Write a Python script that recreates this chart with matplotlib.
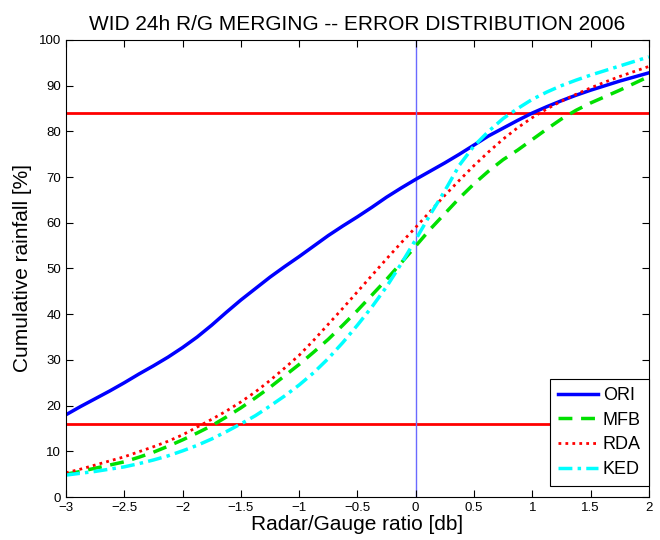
import numpy as np
import matplotlib
matplotlib.use('Agg')
import matplotlib.pyplot as plt

# Ratio radar/gauge (dB) y curvas acumuladas
ratio_db = [-3, -2.875, -2.75, -2.625, -2.5, -2.375, -2.25, -2.125, -2, -1.875,
            -1.75, -1.625, -1.5, -1.375, -1.25, -1.125, -1, -0.875, -0.75, -0.625,
            -0.5, -0.375, -0.25, -0.125, 0, 0.125, 0.25, 0.375, 0.5, 0.625,
            0.75, 0.875, 1, 1.125, 1.25, 1.375, 1.5, 1.625, 1.75, 1.875, 2]
ori = [18.0, 19.8, 21.5, 23.2, 25.0, 26.9, 28.7, 30.6, 32.7, 35.0,
       37.6, 40.4, 43.1, 45.6, 48.1, 50.4, 52.6, 54.9, 57.2, 59.3,
       61.3, 63.4, 65.6, 67.6, 69.5, 71.3, 73.1, 75.0, 77.0, 79.0,
       80.7, 82.4, 84.0, 85.4, 86.7, 87.9, 89.0, 90.0, 91.0, 91.9, 92.8]
mfb = [5.0, 5.6, 6.3, 7.0, 7.7, 8.7, 9.8, 11.1, 12.5, 14.0,
       15.6, 17.5, 19.5, 21.7, 24.0, 26.5, 29.0, 31.7, 34.5, 37.6,
       40.8, 44.2, 47.6, 51.2, 54.9, 58.6, 62.0, 65.4, 68.5, 71.3,
       73.8, 75.9, 78.2, 80.5, 82.7, 84.6, 86.2, 87.6, 89.0, 90.5, 92.0]
rda = [5.3, 6.1, 7.0, 7.9, 8.8, 9.9, 11.0, 12.2, 13.6, 15.3,
       17.0, 18.8, 20.8, 23.0, 25.5, 28.2, 31.0, 34.3, 37.8, 41.3,
       44.9, 48.5, 52.1, 55.6, 59.0, 62.5, 66.0, 69.3, 72.5, 75.5,
       78.3, 80.8, 83.0, 84.9, 86.6, 88.1, 89.5, 90.8, 92.0, 93.1, 94.2]
ked = [4.8, 5.2, 5.6, 6.1, 6.6, 7.3, 8.1, 9.0, 10.1, 11.3,
       12.7, 14.3, 16.0, 17.8, 19.9, 22.1, 24.5, 27.2, 30.3, 33.8,
       37.6, 41.6, 46.0, 51.0, 56.3, 61.8, 67.0, 72.6, 76.8, 80.0,
       82.8, 85.0, 87.0, 88.6, 90.0, 91.2, 92.3, 93.3, 94.3, 95.3, 96.3]
percentiles = [16, 84]

plt.rcParams['font.family'] = ['Liberation Sans', 'DejaVu Sans']

fig = plt.figure(figsize=(6.6, 5.4), dpi=100)
ax = fig.add_axes([0.1, 0.0796, 0.883, 0.8464])

for p in percentiles:
    ax.axhline(p, color='#ff0000', lw=2, zorder=1)
ax.axvline(0, color='#6a6aff', lw=1, zorder=1)

ax.plot(ratio_db, ori, color='#0000ff', lw=2.5, ls='-', label='ORI')
ax.plot(ratio_db, mfb, color='#00e000', lw=2.5, ls=(0, (4, 2.5)), label='MFB')
ax.plot(ratio_db, rda, color='#ff0000', lw=2, ls=(0, (1, 1.5)), label='RDA')
ax.plot(ratio_db, ked, color='#00ffff', lw=2.5, ls=(0, (4, 1.5, 1, 1.5)), label='KED')

ax.set_xlim(-3, 2)
ax.set_ylim(0, 100)
ax.set_xticks(np.arange(-3, 2.01, 0.5))
ax.set_xticklabels(['\u22123', '\u22122.5', '\u22122', '\u22121.5', '\u22121', '\u22120.5',
                    '0', '0.5', '1', '1.5', '2'])
ax.set_yticks(np.arange(0, 101, 10))
ax.tick_params(direction='in', top=True, right=True, labelsize=9.5, length=5)

ax.set_xlabel('Radar/Gauge ratio [db]', fontsize=15, labelpad=1)
ax.set_ylabel('Cumulative rainfall [%]', fontsize=15, labelpad=5)
ax.set_title('WID 24h R/G MERGING -- ERROR DISTRIBUTION 2006', fontsize=15, pad=7)

leg = ax.legend(loc='lower right', bbox_to_anchor=(1.0, 0.024), borderaxespad=0,
                fontsize=13, handlelength=2.2, fancybox=False, framealpha=1,
                edgecolor='black', borderpad=0.45, labelspacing=0.42,
                handletextpad=0.25)
leg.get_frame().set_linewidth(0.8)

fig.savefig('out.png', dpi=100)
